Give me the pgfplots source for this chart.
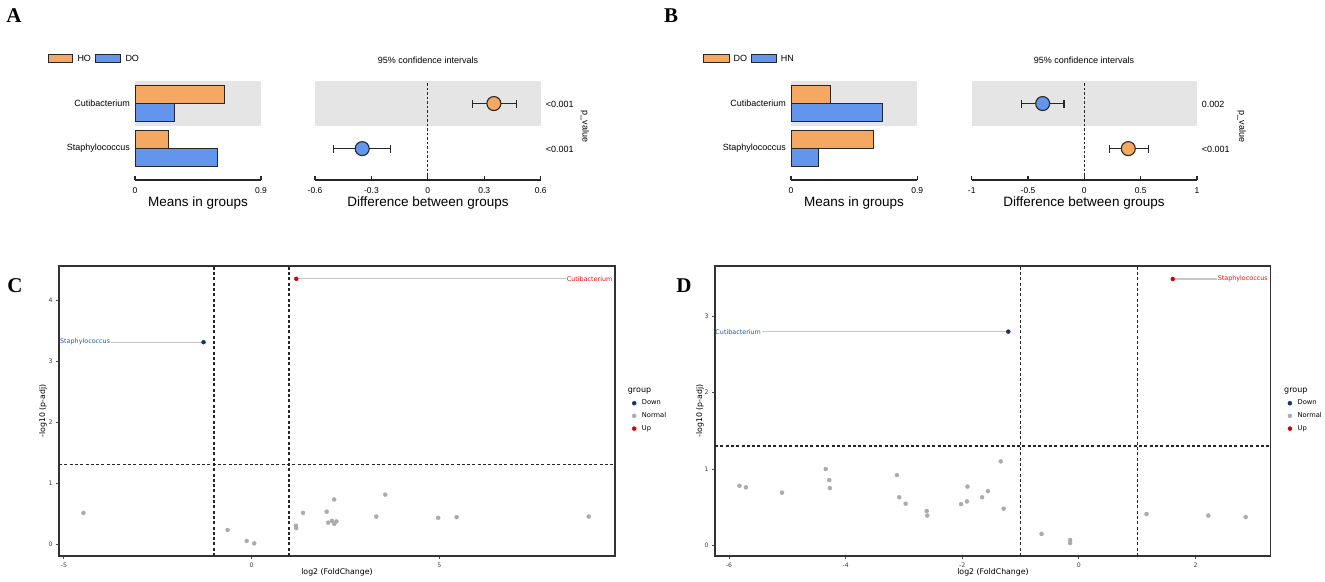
\documentclass[border=0pt]{standalone}
\usepackage{fontspec}
\setmainfont{Liberation Sans}
\newfontfamily\vfont{DejaVu Sans}
\newfontfamily\serifb{Liberation Serif}
\usepackage{pgfplots}
\pgfplotsset{compat=1.18}

\newcommand\fa[1]{\fontsize{#1}{#1}\selectfont}
\newcommand\fv[1]{\vfont\fontsize{#1}{#1}\selectfont}

\definecolor{hoor}{HTML}{F4A862}
\definecolor{doblue}{HTML}{6495ED}
\definecolor{band}{HTML}{E5E5E5}
\definecolor{vdown}{HTML}{10357A}
\definecolor{vdownlab}{HTML}{2A5699}
\definecolor{vnorm}{HTML}{ABABAB}
\definecolor{vup}{HTML}{D40000}
\definecolor{vuplab}{HTML}{E01010}

\pgfplotsset{
  common/.style={scale only axis, anchor=south west, clip=false},
  bottomaxis/.style={axis x line*=bottom,
    x axis line style={-, line width=1.1pt, black!85},
    tick align=inside, major tick length=4pt,
    xtick style={line width=1.1pt, black!85},
    xticklabel style={font=\fa{8.5}, anchor=base, yshift=-13.5pt}},
  barax/.style={common, bottomaxis, width=126pt, height=99pt,
    xmin=0, xmax=0.9, ymin=-0.696, ymax=1.5,
    axis y line*=left, y axis line style={draw=none}, ytick style={draw=none},
    xtick={0,0.9}, xticklabels={0,0.9},
    ytick={0,1}, yticklabels={Staphylococcus,Cutibacterium},
    yticklabel style={font=\fa{9}, anchor=east, inner sep=0pt, xshift=-5pt}},
  ciax/.style={common, bottomaxis, height=99pt, ymin=-0.696, ymax=1.5,
    axis y line=none, unbounded coords=jump},
  hobar/.style={xbar, bar width=0.4, bar shift=0.2, fill=hoor, draw=black!85, line width=0.9pt},
  dobar/.style={xbar, bar width=0.4, bar shift=-0.2, fill=doblue, draw=black!85, line width=0.9pt},
  ebar/.style={black!85, line width=1.2pt, mark=none},
  dot/.style={only marks, mark=*, mark size=7pt, mark options={fill=#1, draw=black!85, line width=1.1pt}},
  zline/.style={black!85, line width=1.1pt, dash pattern=on 2.5pt off 2pt},
  volax/.style={common, height=290pt,
    axis line style={line width=1.4pt, black!80},
    tick pos=left, tick align=outside, major tick length=3pt,
    tick style={line width=0.8pt, black!70},
    ticklabel style={font=\fv{6.2}, text=black!75},
    /pgf/number format/assume math mode=true,
    legend cell align=left,
    legend image code/.code={\path[draw=none, fill=none] (0pt,-3pt) rectangle (6pt,3pt); \draw[##1] plot coordinates {(3pt,0pt)};},
    legend style={draw=none, fill=none, at={(1.0288,0.5388)}, anchor=north west,
      inner sep=0pt, font=\fv{6.7}, row sep=6.2pt, column sep=4.7pt,
      nodes={inner sep=0pt, text height=5pt, text depth=1.5pt}}},
  dline/.style={black!85, line width=1.3pt, dash pattern=on 3pt off 2.3pt, forget plot},
  conn/.style={black!22, line width=1.1pt, forget plot},
  pn/.style={only marks, mark=*, mark size=2pt, color=vnorm},
  pd/.style={only marks, mark=*, mark size=2pt, color=vdown},
  pu/.style={only marks, mark=*, mark size=2pt, color=vup},
}

\begin{document}
\begin{tikzpicture}
\useasboundingbox (0,0) rectangle (1325pt,-581pt);

% ---------------- A ----------------
\begin{axis}[barax, at={(135pt,-180pt)}]
\addplot[fill=band, draw=none] coordinates {(0,0.5) (0.9,0.5) (0.9,1.5) (0,1.5)} -- cycle;
\addplot[hobar] coordinates {(0.636,1) (0.240,0)};
\addplot[dobar] coordinates {(0.279,1) (0.590,0)};
\end{axis}

\begin{axis}[ciax, at={(315pt,-180pt)}, width=225.7pt, xmin=-0.6, xmax=0.6,
  xtick={-0.6,-0.3,0,0.3,0.6}, xticklabels={-0.6,-0.3,0,0.3,0.6}]
\addplot[fill=band, draw=none] coordinates {(-0.6,0.5) (0.6,0.5) (0.6,1.5) (-0.6,1.5)} -- cycle;
\addplot[zline] coordinates {(0,-0.696) (0,1.5)};
% 95% CI: line and end caps
\addplot[ebar] coordinates {(0.236,1) (0.470,1) (nan,nan) (0.236,0.911) (0.236,1.089) (nan,nan) (0.470,0.911) (0.470,1.089)};
\addplot[ebar] coordinates {(-0.500,0) (-0.198,0) (nan,nan) (-0.500,-0.089) (-0.500,0.089) (nan,nan) (-0.198,-0.089) (-0.198,0.089)};
\addplot[dot=hoor] coordinates {(0.351,1)};
\addplot[dot=doblue] coordinates {(-0.349,0)};
\end{axis}

\node[font=\serifb\bfseries\fa{21}] at (14pt,-16pt) {A};
\filldraw[fill=hoor, draw=black!85, line width=0.9pt] (48pt,-54.3pt) rectangle (72.7pt,-62.3pt);
\node[anchor=west, inner sep=0pt, font=\fa{9}] at (77.3pt,-58.3pt) {HO};
\filldraw[fill=doblue, draw=black!85, line width=0.9pt] (95.7pt,-54.3pt) rectangle (120.3pt,-62.3pt);
\node[anchor=west, inner sep=0pt, font=\fa{9}] at (125.3pt,-58.3pt) {DO};
\node[anchor=base, font=\fa{13.5}] at (198pt,-206pt) {Means in groups};
\node[anchor=base, font=\fa{13.5}] at (428pt,-206pt) {Difference between groups};
\node[font=\fa{9}] at (428pt,-60pt) {95\% confidence intervals};
\node[anchor=west, inner sep=0pt, font=\fa{9}] at (545.7pt,-104pt) {<0.001};
\node[anchor=west, inner sep=0pt, font=\fa{9}] at (545.7pt,-149pt) {<0.001};
\node[rotate=-90, font=\fa{9}] at (585pt,-126.5pt) {p\_value};

% ---------------- B ----------------
\begin{axis}[barax, at={(791pt,-180pt)}, width=126.3pt]
\addplot[fill=band, draw=none] coordinates {(0,0.5) (0.9,0.5) (0.9,1.5) (0,1.5)} -- cycle;
\addplot[hobar] coordinates {(0.280,1) (0.590,0)};
\addplot[dobar] coordinates {(0.650,1) (0.195,0)};
\end{axis}

\begin{axis}[ciax, at={(971.7pt,-180pt)}, width=225.3pt, xmin=-1, xmax=1,
  xtick={-1,-0.5,0,0.5,1}, xticklabels={-1,-0.5,0,0.5,1}]
\addplot[fill=band, draw=none] coordinates {(-1,0.5) (1,0.5) (1,1.5) (-1,1.5)} -- cycle;
\addplot[zline] coordinates {(0,-0.696) (0,1.5)};
\addplot[ebar] coordinates {(-0.56,1) (-0.18,1) (nan,nan) (-0.56,0.911) (-0.56,1.089) (nan,nan) (-0.18,0.911) (-0.18,1.089)};
\addplot[ebar] coordinates {(0.22,0) (0.57,0) (nan,nan) (0.22,-0.089) (0.22,0.089) (nan,nan) (0.57,-0.089) (0.57,0.089)};
\addplot[dot=doblue] coordinates {(-0.37,1)};
\addplot[dot=hoor] coordinates {(0.39,0)};
\end{axis}

\node[font=\serifb\bfseries\fa{21}] at (671pt,-16pt) {B};
\filldraw[fill=hoor, draw=black!85, line width=0.9pt] (703.3pt,-54.3pt) rectangle (729pt,-62.5pt);
\node[anchor=west, inner sep=0pt, font=\fa{9}] at (733.3pt,-58.3pt) {DO};
\filldraw[fill=doblue, draw=black!85, line width=0.9pt] (751pt,-54.3pt) rectangle (776.7pt,-62.5pt);
\node[anchor=west, inner sep=0pt, font=\fa{9}] at (780.7pt,-58.3pt) {HN};
\node[anchor=base, font=\fa{13.5}] at (854pt,-206pt) {Means in groups};
\node[anchor=base, font=\fa{13.5}] at (1084pt,-206pt) {Difference between groups};
\node[font=\fa{9}] at (1084pt,-60pt) {95\% confidence intervals};
\node[anchor=west, inner sep=0pt, font=\fa{9}] at (1201.7pt,-104pt) {0.002};
\node[anchor=west, inner sep=0pt, font=\fa{9}] at (1201.7pt,-149pt) {<0.001};
\node[rotate=-90, font=\fa{9}] at (1241.7pt,-126.5pt) {p\_value};

% ---------------- C ----------------
\begin{axis}[volax, at={(59pt,-556pt)}, width=556pt,
  xmin=-5.13, xmax=9.68, ymin=-0.197, ymax=4.56,
  xtick={-5,0,5}, ytick={0,1,2,3,4}]
\addplot[dline] coordinates {(-1,-0.197) (-1,4.56)};
\addplot[dline] coordinates {(1,-0.197) (1,4.56)};
\addplot[dline] coordinates {(-5.13,1.30103) (9.68,1.30103)};
\addplot[conn] coordinates {(-3.75,3.31) (-1.28,3.31)};
\addplot[conn] coordinates {(1.19,4.35) (8.38,4.35)};
\addplot[pd] coordinates {(-1.28,3.31)};
\addlegendentry{Down}
\addplot[pn] coordinates {
  (-4.48,0.51) (-0.64,0.23) (-0.13,0.05) (0.07,0.01) (1.18,0.30) (1.19,0.26)
  (1.37,0.51) (2.00,0.53) (2.04,0.35) (2.14,0.38) (2.20,0.73) (2.20,0.33)
  (2.26,0.37) (3.32,0.45) (3.56,0.81) (4.97,0.43) (5.46,0.44) (8.98,0.45)};
\addlegendentry{Normal}
\addplot[pu] coordinates {(1.19,4.35)};
\addlegendentry{Up}
\node[anchor=east, inner sep=0.5pt, text=vdownlab, font=\fv{6.4}] at (axis cs:-3.75,3.31) {Staphylococcus};
\node[anchor=west, inner sep=0.5pt, text=vuplab, font=\fv{6.4}] at (axis cs:8.38,4.35) {Cutibacterium};
\end{axis}

\node[font=\serifb\bfseries\fa{21}] at (15pt,-286pt) {C};
\node[font=\fv{7.8}] at (337pt,-572pt) {log2 (FoldChange)};
\node[rotate=90, font=\fv{7.8}] at (43pt,-411pt) {-log10 (p-adj)};
\node[anchor=west, inner sep=0pt, font=\fv{8}] at (627.7pt,-391pt) {group};

% ---------------- D ----------------
\begin{axis}[volax, at={(715pt,-556pt)}, width=555.7pt,
  xmin=-6.24, xmax=3.29, ymin=-0.14, ymax=3.66,
  xtick={-6,-4,-2,0,2}, ytick={0,1,2,3}]
\addplot[dline] coordinates {(-1,-0.14) (-1,3.66)};
\addplot[dline] coordinates {(1,-0.14) (1,3.66)};
\addplot[dline] coordinates {(-6.24,1.30103) (3.29,1.30103)};
\addplot[conn] coordinates {(-5.44,2.80) (-1.21,2.80)};
\addplot[conn] coordinates {(1.61,3.49) (2.37,3.49)};
\addplot[pd] coordinates {(-1.21,2.80)};
\addlegendentry{Down}
\addplot[pn] coordinates {
  (-5.82,0.78) (-5.71,0.76) (-5.09,0.69) (-4.34,1.00) (-4.28,0.855) (-4.27,0.75)
  (-3.12,0.92) (-3.08,0.63) (-2.97,0.545) (-2.61,0.45) (-2.60,0.39) (-2.02,0.54)
  (-1.92,0.575) (-1.91,0.77) (-1.66,0.63) (-1.56,0.71) (-1.34,1.10) (-1.29,0.48)
  (-0.64,0.15) (-0.15,0.07) (-0.15,0.03) (1.16,0.41) (2.22,0.39) (2.86,0.37)};
\addlegendentry{Normal}
\addplot[pu] coordinates {(1.61,3.49)};
\addlegendentry{Up}
\node[anchor=east, inner sep=0.5pt, text=vdownlab, font=\fv{6.4}] at (axis cs:-5.44,2.80) {Cutibacterium};
\node[anchor=west, inner sep=0.5pt, text=vuplab, font=\fv{6.4}] at (axis cs:2.37,3.49) {Staphylococcus};
\end{axis}

\node[font=\serifb\bfseries\fa{21}] at (684pt,-286pt) {D};
\node[font=\fv{7.8}] at (993pt,-572pt) {log2 (FoldChange)};
\node[rotate=90, font=\fv{7.8}] at (700pt,-411pt) {-log10 (p-adj)};
\node[anchor=west, inner sep=0pt, font=\fv{8}] at (1284pt,-391pt) {group};
\end{tikzpicture}
\end{document}
